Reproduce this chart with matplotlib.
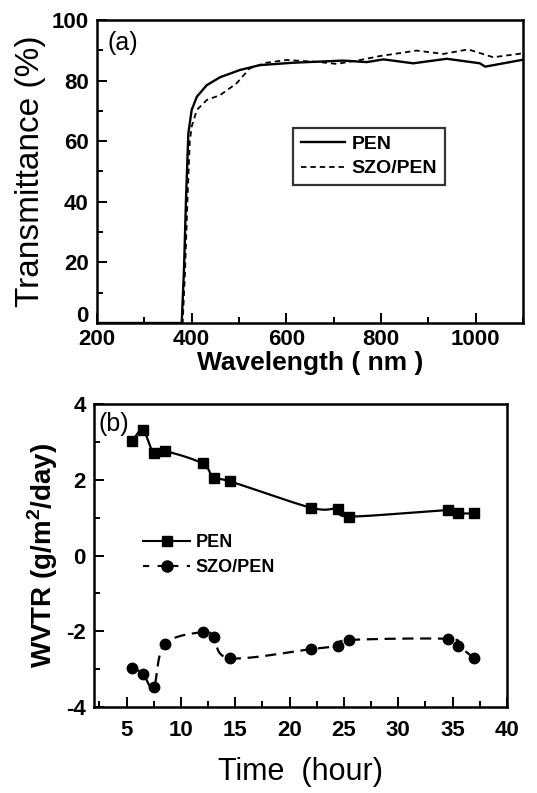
import numpy as np
import matplotlib
matplotlib.use("Agg")
import matplotlib.pyplot as plt
import matplotlib.transforms as mtransforms
from matplotlib.ticker import MultipleLocator
from matplotlib.lines import Line2D

plt.rcParams['font.family'] = ['Liberation Sans', 'DejaVu Sans']
plt.rcParams['mathtext.fontset'] = 'custom'
plt.rcParams['mathtext.rm'] = 'Liberation Sans'
plt.rcParams['mathtext.bf'] = 'Liberation Sans:bold'
plt.rcParams['axes.unicode_minus'] = False

# ---- Panel (a): transmittance ----
pen_wl = [200, 300, 379, 384, 388, 393, 400, 411, 432, 460, 502, 544, 615, 720, 770, 805, 868, 939, 1009, 1020, 1097, 1100]
pen_t  = [0, 0, 0, 18.6, 40.6, 62.6, 70.3, 74.7, 78.5, 81.1, 83.5, 85.1, 85.9, 86.6, 86.1, 87.0, 85.7, 87.2, 85.7, 84.6, 86.8, 86.9]
szo_wl = [200, 300, 381, 386, 391, 396, 400, 411, 432, 460, 495, 523, 558, 601, 671, 706, 756, 798, 875, 932, 984, 1037, 1100]
szo_t  = [0, 0, 0, 17.0, 40.0, 60.0, 64.8, 70.3, 73.6, 75.2, 79.1, 84.1, 85.9, 86.8, 86.1, 85.5, 86.8, 88.1, 89.9, 88.8, 90.3, 87.7, 89.0]
trans_ticks = [0, 20, 40, 60, 80, 100]

# ---- Panel (b): WVTR ----
time_h   = [5.5, 6.5, 7.5, 8.5, 12.0, 13.0, 14.5, 22.0, 24.5, 25.5, 34.6, 35.5, 37.0]
wvtr_pen = [3.02, 3.31, 2.70, 2.76, 2.43, 2.04, 1.96, 1.26, 1.24, 1.03, 1.20, 1.12, 1.11]
wvtr_szo = [-2.96, -3.12, -3.48, -2.34, -2.02, -2.14, -2.71, -2.47, -2.38, -2.23, -2.20, -2.38, -2.71]


def catmull_rom(x, y, n=20):
    x = np.asarray(x, float); y = np.asarray(y, float)
    px = np.concatenate([[2*x[0]-x[1]], x, [2*x[-1]-x[-2]]])
    py = np.concatenate([[2*y[0]-y[1]], y, [2*y[-1]-y[-2]]])
    xs, ys = [], []
    t = np.linspace(0, 1, n, endpoint=False)
    for i in range(1, len(px)-2):
        p0, p1, p2, p3 = [np.array([px[j], py[j]]) for j in (i-1, i, i+1, i+2)]
        for tt in t:
            pt = 0.5*((2*p1) + (-p0+p2)*tt + (2*p0-5*p1+4*p2-p3)*tt**2 + (-p0+3*p1-3*p2+p3)*tt**3)
            xs.append(pt[0]); ys.append(pt[1])
    xs.append(x[-1]); ys.append(y[-1])
    return np.array(xs), np.array(ys)


fig = plt.figure(figsize=(5.37, 7.93), dpi=100)

# Panel (a)
ax1 = fig.add_axes([0.1806, 0.5927, 0.7934, 0.3821])
ax1.plot(pen_wl, pen_t, color='black', lw=1.7, label='PEN')
ax1.plot(szo_wl, szo_t, color='black', lw=1.3, ls=(0, (3, 2.2)), label='SZO/PEN')
ax1.set_xlim(200, 1100)
ax1.set_ylim(0, 100)
ax1.xaxis.set_major_locator(MultipleLocator(200))
ax1.xaxis.set_minor_locator(MultipleLocator(100))
ax1.set_yticks(trans_ticks)
ax1.yaxis.set_minor_locator(MultipleLocator(10))
ax1.set_xlabel('Wavelength ( nm )', fontsize=19, fontweight='bold', labelpad=1)
ax1.set_ylabel('Transmittance (%)', fontsize=24, labelpad=4)
ax1.text(0.025, 0.965, '(a)', transform=ax1.transAxes, fontsize=18, va='top', ha='left')
leg1 = ax1.legend(loc='upper left', bbox_to_anchor=(0.46, 0.645), borderaxespad=0,
                  frameon=True, fancybox=False, edgecolor='black', handlelength=2.3,
                  borderpad=0.4, handletextpad=0.3, labelspacing=0.35,
                  prop=dict(weight='bold', size=14))
leg1.get_frame().set_linewidth(1.6)

# Panel (b)
ax2 = fig.add_axes([0.175, 0.1084, 0.769, 0.3821])
sx, sy = catmull_rom(time_h, wvtr_pen)
ax2.plot(sx, sy, color='black', lw=1.6)
ax2.plot(time_h, wvtr_pen, ls='none', marker='s', ms=7, color='black')
sx2, sy2 = catmull_rom(time_h, wvtr_szo)
ax2.plot(sx2, sy2, color='black', lw=1.6, ls=(0, (5, 3)))
ax2.plot(time_h, wvtr_szo, ls='none', marker='o', ms=7.5, color='black')
ax2.set_xlim(2, 40)
ax2.set_ylim(-4, 4)
ax2.xaxis.set_major_locator(MultipleLocator(5))
ax2.xaxis.set_minor_locator(MultipleLocator(2.5))
ax2.yaxis.set_major_locator(MultipleLocator(2))
ax2.yaxis.set_minor_locator(MultipleLocator(1))
ax2.set_xlabel('Time  (hour)', fontsize=22, labelpad=12)
ax2.set_ylabel(r'WVTR (g/m$^\mathbf{2}$/day)', fontsize=20, fontweight='bold', labelpad=4)
ax2.text(0.01, 0.975, '(b)', transform=ax2.transAxes, fontsize=18, va='top', ha='left')
h1 = Line2D([], [], color='black', lw=1.5, marker='s', ms=7)
h2 = Line2D([], [], color='black', lw=1.5, ls=(0, (3, 4)), marker='o', ms=8)
leg2 = ax2.legend([h1, h2], ['PEN', 'SZO/PEN'], loc='upper left', bbox_to_anchor=(0.08, 0.625),
                  frameon=False, handlelength=2.6, handletextpad=0.3,
                  prop=dict(size=13, weight='bold'), labelspacing=0.45)

for ax in (ax1, ax2):
    ax.tick_params(which='both', direction='in', top=False, right=False, width=1.4)
    ax.tick_params(which='major', length=7)
    ax.tick_params(which='minor', length=4)
    ax.tick_params(axis='y', which='both', pad=6)
    for lab in ax.get_xticklabels() + ax.get_yticklabels():
        lab.set_fontsize(16); lab.set_fontweight('bold')
    for s in ax.spines.values():
        s.set_linewidth(1.8)
ax1.tick_params(axis='x', which='both', pad=4)
ax2.tick_params(axis='x', which='both', pad=9)

# keep the "0" of panel (a) just above the "200" tick label, as in the reference
shift = mtransforms.ScaledTranslation(0, -4/100, fig.dpi_scale_trans)
for tick in ax1.yaxis.get_major_ticks():
    if abs(tick.get_loc()) < 1e-9:
        tick.label1.set_va('bottom')
        tick.label1.set_transform(tick.label1.get_transform() + shift)

fig.savefig('out.png', dpi=100)
